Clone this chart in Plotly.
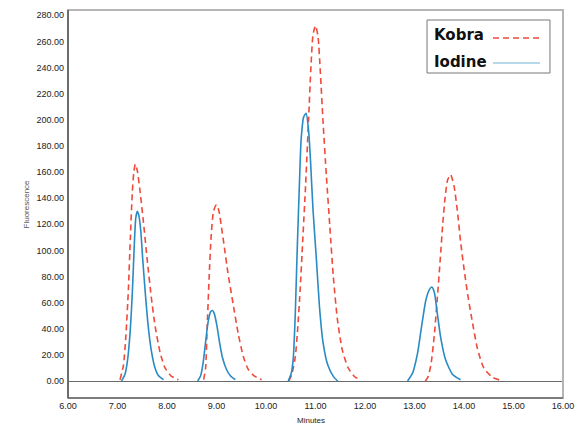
import plotly.graph_objects as go

# ---- data (None separates the peaks) ----
kobra_x = [7.05, 7.12, 7.17, 7.22, 7.26, 7.30, 7.33, 7.36, 7.40, 7.45, 7.52, 7.60, 7.68, 7.76, 7.86, 7.96, 8.08, 8.23, None,
           8.74, 8.78, 8.81, 8.85, 8.89, 8.94, 9.00, 9.05, 9.10, 9.16, 9.23, 9.34, 9.44, 9.54, 9.64, 9.76, 9.91, None,
           10.46, 10.52, 10.59, 10.64, 10.69, 10.74, 10.80, 10.86, 10.91, 10.95, 11.00, 11.05, 11.10, 11.15, 11.22, 11.29, 11.36, 11.44, 11.54, 11.66, 11.80, 11.92, None,
           13.22, 13.27, 13.33, 13.40, 13.46, 13.52, 13.57, 13.62, 13.67, 13.73, 13.80, 13.87, 13.93, 14.00, 14.08, 14.17, 14.27, 14.40, 14.57, 14.74]
kobra_y = [1, 12, 35, 70, 110, 145, 160, 166, 161, 147, 123, 93, 65, 42, 22, 10, 4, 1, None,
           1, 10, 40, 78, 110, 130, 135, 130, 118, 102, 83, 58, 36, 19, 9, 4, 1, None,
           0, 5, 18, 40, 70, 106, 150, 200, 242, 265, 272, 264, 235, 200, 157, 118, 80, 48, 24, 10, 3, 1, None,
           0, 3, 12, 35, 63, 93, 120, 141, 154, 158, 149, 129, 107, 86, 65, 45, 25, 10, 3, 0.5]

iodine_x = [7.08, 7.15, 7.20, 7.25, 7.30, 7.34, 7.37, 7.40, 7.43, 7.47, 7.51, 7.56, 7.62, 7.68, 7.75, 7.83, 7.93, None,
            8.62, 8.68, 8.73, 8.78, 8.83, 8.88, 8.92, 8.96, 9.01, 9.06, 9.12, 9.20, 9.28, 9.38, None,
            10.45, 10.51, 10.55, 10.59, 10.63, 10.67, 10.71, 10.76, 10.81, 10.86, 10.90, 10.95, 11.02, 11.08, 11.15, 11.25, 11.37, 11.45, None,
            12.86, 12.96, 13.06, 13.14, 13.23, 13.30, 13.35, 13.40, 13.46, 13.53, 13.63, 13.77, 13.93]
iodine_y = [0, 5, 15, 35, 68, 105, 125, 130, 127, 115, 93, 68, 42, 24, 11, 4, 1, None,
            0, 4, 14, 30, 45, 53, 54, 51, 42, 30, 18, 9, 4, 1, None,
            0, 6, 17, 50, 100, 145, 185, 202, 205, 192, 168, 131, 92, 57, 30, 12, 3, 0, None,
            0, 6, 21, 41, 62, 70, 72, 68, 52, 33, 16, 5, 1]

x_ticks = [6, 7, 8, 9, 10, 11, 12, 13, 14, 15, 16]
y_ticks = [0, 20, 40, 60, 80, 100, 120, 140, 160, 180, 200, 220, 240, 260, 280]

RED = "#ef4a3a"
BLUE = "#2a8ac4"

fig = go.Figure()
fig.add_trace(go.Scatter(x=kobra_x, y=kobra_y, mode="lines", name="Kobra",
                         line=dict(color=RED, width=1.6, dash="6px,4px", shape="spline", smoothing=0.6),
                         connectgaps=False))
fig.add_trace(go.Scatter(x=iodine_x, y=iodine_y, mode="lines", name="Iodine",
                         line=dict(color=BLUE, width=1.6, shape="spline", smoothing=0.6),
                         connectgaps=False))

tick_font = dict(family="Liberation Sans", size=9, color="#222")

fig.update_layout(
    width=581, height=427,
    margin=dict(l=68, r=18, t=10, b=29),
    paper_bgcolor="white", plot_bgcolor="white",
    showlegend=False,
    xaxis=dict(range=[6, 16], tickvals=x_ticks, ticktext=[f"{v:.2f}" for v in x_ticks],
               showgrid=False, zeroline=False, showline=False, ticks="", automargin=False,
               tickfont=tick_font, ticklabelstandoff=1),
    yaxis=dict(range=[-13, 284], tickvals=y_ticks, ticktext=[f"{v:.2f}" for v in y_ticks],
               showgrid=False, zeroline=True, zerolinecolor="#6a6a6a", zerolinewidth=1, automargin=False,
               showline=False, ticks="", tickfont=tick_font, ticklabelstandoff=3),
)

# frame
fig.add_shape(type="rect", xref="paper", yref="paper", x0=0, x1=1, y0=0, y1=1,
              line=dict(color="#b5b5b5", width=2), layer="above")
fig.add_shape(type="line", xref="paper", yref="paper", x0=0, x1=0, y0=0, y1=1,
              line=dict(color="#555555", width=1.5), layer="above")
fig.add_shape(type="line", xref="paper", yref="paper", x0=0, x1=1, y0=0, y1=0,
              line=dict(color="#6a6a6a", width=1.5), layer="above")

# axis titles
fig.add_annotation(text="Fluorescence", xref="paper", yref="paper", x=-0.097, y=0.5,
                   textangle=-90, showarrow=False, font=dict(family="Liberation Sans", size=8, color="#555"))
fig.add_annotation(text="Minutes", xref="paper", yref="paper", x=0.49, y=-0.058,
                   yanchor="middle", showarrow=False, font=dict(family="Liberation Sans", size=8, color="#222"))

# custom legend (text left, sample right)
fig.add_shape(type="rect", xref="paper", yref="paper", x0=0.7253, x1=0.9737, y0=0.8376, y1=0.9742,
              line=dict(color="#777", width=1), fillcolor="white", layer="above")
fig.add_annotation(text="<b>Kobra</b>", xref="paper", yref="paper", x=0.7354, y=0.9356,
                   xanchor="left", yanchor="middle", showarrow=False,
                   font=dict(family="DejaVu Sans", size=15, color="#111"))
fig.add_annotation(text="<b>Iodine</b>", xref="paper", yref="paper", x=0.7354, y=0.866,
                   xanchor="left", yanchor="middle", showarrow=False,
                   font=dict(family="DejaVu Sans", size=15, color="#111"))
fig.add_shape(type="line", xref="paper", yref="paper", x0=0.8586, x1=0.9535, y0=0.9278, y1=0.9278,
              line=dict(color=RED, width=1.6, dash="6px,4px"), layer="above")
fig.add_shape(type="line", xref="paper", yref="paper", x0=0.8586, x1=0.9535, y0=0.8634, y1=0.8634,
              line=dict(color="#9fcbe0", width=1.6), layer="above")

fig.write_html("out.html", config={"displayModeBar": False},
               post_script="document.body.style.margin='0';")
